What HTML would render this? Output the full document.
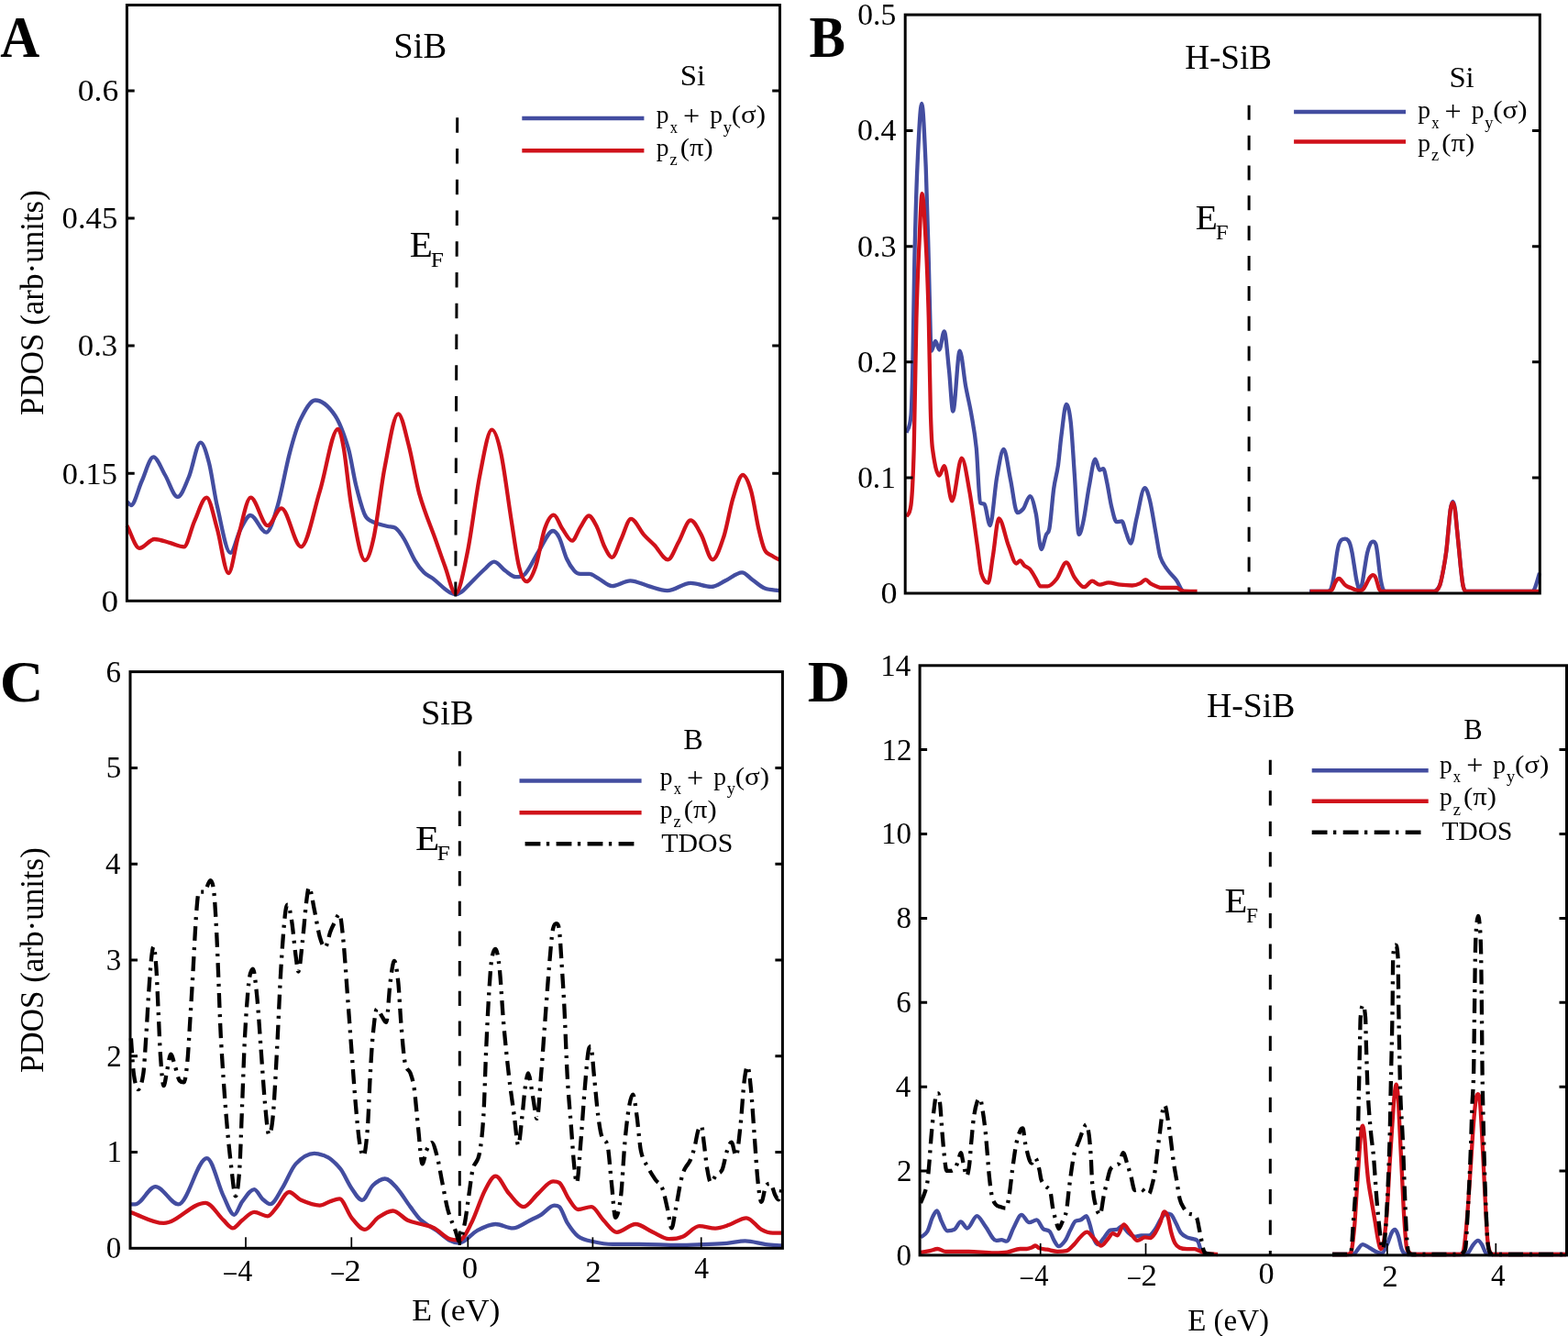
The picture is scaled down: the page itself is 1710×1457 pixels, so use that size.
<!DOCTYPE html>
<html><head><meta charset="utf-8"><title>PDOS of SiB and H-SiB</title>
<style>
html,body{margin:0;padding:0;background:#fff;}
svg{display:block;}
text{font-family:"Liberation Serif","Times New Roman",serif;fill:#000;}
</style></head><body>
<svg width="1710" height="1457" viewBox="0 0 1710 1457">
<rect width="1710" height="1457" fill="#fff"/>
<path d="M138.5 547C139.97 548.33 141.43 551 142.9 551C146.77 551 150.63 533.35 154.5 525C158.77 515.78 163.03 498.3 167.3 498.3C171.53 498.3 175.77 511.01 180 518C184.57 525.54 189.13 541.9 193.7 541.9C197.8 541.9 201.9 529.73 206 520C210.23 509.96 214.47 482.6 218.7 482.6C221.8 482.6 224.9 493.15 228 505C230.93 516.21 233.87 539.47 236.8 551.8C241.63 572.11 246.47 602.9 251.3 602.9C254.87 602.9 258.43 584.69 262 578C265.7 571.06 269.4 562 273.1 562C278.87 562 284.63 580.6 290.4 580.6C294.5 580.6 298.6 565.71 302.7 551.8C307.1 536.87 311.5 510.76 315.9 494.1C319.77 479.46 323.63 465.85 327.5 457.9C332.97 446.65 338.43 436.5 343.9 436.5C351.03 436.5 358.17 442.56 365.3 453C370.17 460.12 375.03 473.04 379.9 489.2C382.63 498.28 385.37 517.51 388.1 528.7C391.13 541.11 394.17 552.12 397.2 560C399.13 565.02 401.07 566.34 403 567.4C409.57 571.01 416.13 572.56 422.7 574C425.47 574.61 428.23 574.11 431 575.7C434.27 577.57 437.53 582.6 440.8 588C444.67 594.4 448.53 604.57 452.4 611.1C455.7 616.67 459 620.98 462.3 624.3C465.57 627.58 468.83 628.33 472.1 630.9C476.5 634.36 480.9 638.81 485.3 642.4C487.2 643.95 489.1 645.35 491 646.3C492.97 647.28 494.93 648.2 496.9 648.2C498.93 648.2 500.97 647.21 503 645.8C505.33 644.18 507.67 641.4 510 639.1C516.07 633.13 522.13 626.54 528.2 621C531.77 617.74 535.33 612.7 538.9 612.7C543 612.7 547.1 619.76 551.2 622.6C555.03 625.26 558.87 629.2 562.7 629.2C566 629.2 569.3 629.2 572.6 625.9C577.57 620.93 582.53 608.84 587.5 601.2C592.7 593.2 597.9 579 603.1 579C605.37 579 607.63 581.79 609.9 586.4C612.63 591.96 615.37 603.5 618.1 609.5C620.87 615.57 623.63 619.53 626.4 622.6C628.57 625 630.73 625.9 632.9 625.9C636.2 625.9 639.5 625.9 642.8 625.9C646.1 625.9 649.4 629.14 652.7 630.9C657.63 633.54 662.57 639.1 667.5 639.1C674.1 639.1 680.7 633.3 687.3 633.3C693.9 633.3 700.5 637.34 707.1 639.1C713.97 640.94 720.83 644.1 727.7 644.1C736.2 644.1 744.7 635.8 753.2 635.8C760.63 635.8 768.07 639.9 775.5 639.9C780.7 639.9 785.9 635.71 791.1 633.3C797.13 630.51 803.17 624.3 809.2 624.3C813.07 624.3 816.93 629.79 820.8 632.5C825.17 635.56 829.53 639.87 833.9 641.6C839.43 643.8 844.97 643.4 850.5 644.3" fill="none" stroke="#434da0" stroke-width="4.3" stroke-linejoin="round"/>
<path d="M138.5 573.2C143 581.43 147.5 597.9 152 597.9C157.5 597.9 163 588 168.5 588C174.27 588 180.03 590.71 185.8 592.2C190.73 593.48 195.67 596.3 200.6 596.3C204.43 596.3 208.27 576.62 212.1 568.3C216.5 558.75 220.9 542.7 225.3 542.7C229.13 542.7 232.97 563.28 236.8 576.5C240.93 590.75 245.07 625.1 249.2 625.1C252.77 625.1 256.33 596.84 259.9 584.7C264.4 569.38 268.9 542.7 273.4 542.7C279.6 542.7 285.8 573.2 292 573.2C296.97 573.2 301.93 554.3 306.9 554.3C314.03 554.3 321.17 596.3 328.3 596.3C335.17 596.3 342.03 557.19 348.9 535.3C355.47 514.36 362.03 467.8 368.6 467.8C370.7 467.8 372.8 477.12 374.9 489.2C377.67 505.12 380.43 537.2 383.2 551.8C388.13 577.83 393.07 611.1 398 611.1C401.3 611.1 404.6 600.2 407.9 584.7C411.73 566.7 415.57 529.97 419.4 510.6C424.37 485.5 429.33 451.3 434.3 451.3C438.13 451.3 441.97 471.35 445.8 485.9C449.63 500.45 453.47 525.16 457.3 538.6C463.33 559.76 469.37 572.66 475.4 589.7C478.7 599.02 482 608.86 485.3 617.7C489.17 628.06 493.03 647.3 496.9 647.3C501.27 647.3 505.63 622.54 510 601.2C514.4 579.7 518.8 540.9 523.2 518.8C527.6 496.7 532 468.6 536.4 468.6C539.7 468.6 543 478.73 546.3 494.1C550.13 511.96 553.97 544.25 557.8 568.3C560.53 585.45 563.27 606.78 566 617.7C568.77 628.75 571.53 634.2 574.3 634.2C577.6 634.2 580.9 627.32 584.2 617.7C587.5 608.08 590.8 585.88 594.1 576.5C597.37 567.21 600.63 561.7 603.9 561.7C607 561.7 610.1 572.16 613.2 576.5C616.77 581.49 620.33 589.7 623.9 589.7C626.93 589.7 629.97 579.46 633 574.9C636 570.39 639 562.5 642 562.5C645.03 562.5 648.07 568.97 651.1 574.9C653.83 580.24 656.57 590.82 659.3 596.3C662.03 601.78 664.77 607.8 667.5 607.8C670.8 607.8 674.1 594.73 677.4 588C680.97 580.73 684.53 565.8 688.1 565.8C692.77 565.8 697.43 577.85 702.1 583.1C705.97 587.45 709.83 590.62 713.7 594.6C718.63 599.68 723.57 610.3 728.5 610.3C732.33 610.3 736.17 597.96 740 591.3C744.4 583.66 748.8 567.4 753.2 567.4C757.03 567.4 760.87 576.22 764.7 583.1C768.83 590.52 772.97 610.3 777.1 610.3C781.23 610.3 785.37 597.12 789.5 584.7C792.77 574.89 796.03 554.23 799.3 543.6C802.87 532 806.43 518 810 518C813.03 518 816.07 525.04 819.1 535.3C821.83 544.54 824.57 564.62 827.3 576.5C829.5 586.06 831.7 595.21 833.9 599.6C836.67 605.11 839.43 604.3 842.2 606.2C844.97 608.1 847.73 609.4 850.5 611" fill="none" stroke="#d0111a" stroke-width="4.3" stroke-linejoin="round"/>
<path d="M498.7 128.3L496.8 650.5" stroke="#000" stroke-width="3" stroke-dasharray="16.5 17.25"/>
<rect x="138.4" y="5.5" width="712.1" height="649.8" fill="none" stroke="#000" stroke-width="3.0"/>
<path d="M138.4 516.2H146.7M850.5 516.2H842.2" stroke="#000" stroke-width="3.0"/>
<path d="M138.4 377.1H146.7M850.5 377.1H842.2" stroke="#000" stroke-width="3.0"/>
<path d="M138.4 238H146.7M850.5 238H842.2" stroke="#000" stroke-width="3.0"/>
<path d="M138.4 98.9H146.7M850.5 98.9H842.2" stroke="#000" stroke-width="3.0"/>
<text transform="translate(110.58 666.6) scale(1.0837 1)" font-size="34.4">0</text>
<text transform="translate(67.69 527.6)" font-size="34.4">0.15</text>
<text transform="translate(84.78 388.4) scale(1.0113 1)" font-size="34.4">0.3</text>
<text transform="translate(67.58 249.3) scale(1.0079 1)" font-size="34.4">0.45</text>
<text transform="translate(84.75 109.7) scale(1.0328 1)" font-size="34.4">0.6</text>
<text transform="translate(0.22 61.8) scale(0.9455 1)" font-size="63" font-weight="bold">A</text>
<text transform="translate(429.32 62.9) scale(0.9809 1)" font-size="39.3">SiB</text>
<text transform="translate(741.8 92.7) scale(1.0440 1)" font-size="31.5">Si</text>
<path d="M569.3 128.9H702.4" stroke="#434da0" stroke-width="4.5"/>
<path d="M569.3 164.3H702.4" stroke="#d0111a" stroke-width="4.5"/>
<text transform="translate(715.76 134.4)" font-size="27.5">p</text>
<text transform="translate(730.66 144.6) scale(0.8915 1)" font-size="18.5">x</text>
<text transform="translate(744.99 137) scale(1.0073 1)" font-size="32">+</text>
<text transform="translate(774.16 134.4)" font-size="27.5">p</text>
<text transform="translate(788.77 144.6)" font-size="18.5">y</text>
<text transform="translate(797.74 134.4) scale(1.1262 1)" font-size="27.5">(σ)</text>
<text transform="translate(715.76 169.5)" font-size="27.5">p</text>
<text transform="translate(730.5 179.7)" font-size="18.5">z</text>
<text transform="translate(741.75 169.5) scale(1.1147 1)" font-size="27.5">(π)</text>
<text transform="translate(446.71 279.7) scale(1.0524 1)" font-size="39.1">E</text>
<text transform="translate(469.77 290.6) scale(1.1310 1)" font-size="22.5">F</text>
<text transform="translate(47.1 330.1) rotate(-90)" font-size="35" text-anchor="middle">PDOS (arb·units)</text>
<path d="M988.5 472C990.17 465.6 991.83 470.45 993.5 452.8C994.1 446.45 994.7 426.46 995.3 400C995.97 370.6 996.63 313.66 997.3 285.2C998.33 241.09 999.37 204.85 1000.4 182.3C1002 147.38 1003.6 112.8 1005.2 112.8C1006.7 112.8 1008.2 148.27 1009.7 182.3C1010.73 205.74 1011.77 247.68 1012.8 285.2C1013.47 309.41 1014.13 346.55 1014.8 367.5C1015.17 379.02 1015.53 382.6 1015.9 382.6C1017.3 382.6 1018.7 371.9 1020.1 371.9C1021.53 371.9 1022.97 381.5 1024.4 381.5C1026.17 381.5 1027.93 361.3 1029.7 361.3C1031.47 361.3 1033.23 387.75 1035 403.8C1036.43 416.82 1037.87 448.5 1039.3 448.5C1041.77 448.5 1044.23 382.6 1046.7 382.6C1048.83 382.6 1050.97 409.2 1053.1 420.9C1055.23 432.6 1057.37 440.4 1059.5 452.8C1061.27 463.07 1063.03 471.1 1064.8 488.9C1066.2 503 1067.6 547.48 1069 548.5C1070.43 549.55 1071.87 549.26 1073.3 549.6C1075.43 550.1 1077.57 573 1079.7 573C1082.17 573 1084.63 534.64 1087.1 520.9C1089.6 506.97 1092.1 490 1094.6 490C1097.07 490 1099.53 511.56 1102 523C1104.5 534.59 1107 559.1 1109.5 559.1C1111.63 559.1 1113.77 557.68 1115.9 554.9C1118.37 551.68 1120.83 541.1 1123.3 541.1C1125.47 541.1 1127.63 550.02 1129.8 560.3C1131.7 569.32 1133.6 599 1135.5 599C1137.37 599 1139.23 587.02 1141.1 582.9C1142.2 580.47 1143.3 582.42 1144.4 576.5C1146 567.89 1147.6 544.47 1149.2 532.9C1150.8 521.33 1152.4 518.24 1154 507.1C1155.1 499.44 1156.2 484.67 1157.3 476.5C1159.17 462.64 1161.03 441 1162.9 441C1164.5 441 1166.1 446.67 1167.7 460.3C1169.07 471.94 1170.43 497.97 1171.8 516.8C1173.4 538.84 1175 582.9 1176.6 582.9C1178.23 582.9 1179.87 576.09 1181.5 568.4C1183.63 558.36 1185.77 540.91 1187.9 529.7C1190.07 518.31 1192.23 500.6 1194.4 500.6C1196 500.6 1197.6 512.7 1199.2 512.7C1200.53 512.7 1201.87 511.1 1203.2 511.1C1204.57 511.1 1205.93 520.17 1207.3 526.5C1208.9 533.91 1210.5 545.73 1212.1 552.3C1213.97 559.96 1215.83 569.2 1217.7 569.2C1219.6 569.2 1221.5 568.4 1223.4 568.4C1225 568.4 1226.6 577.31 1228.2 581.3C1229.83 585.37 1231.47 592.6 1233.1 592.6C1235.23 592.6 1237.37 573.64 1239.5 565.2C1242.47 553.47 1245.43 532.1 1248.4 532.1C1250.27 532.1 1252.13 538.21 1254 545.8C1256.17 554.61 1258.33 569.55 1260.5 581.3C1262.1 589.98 1263.7 602.1 1265.3 607.1C1268 615.53 1270.7 617.69 1273.4 621.6C1276.63 626.29 1279.87 628.36 1283.1 632.9C1285.23 635.89 1287.37 642.07 1289.5 644.2C1290.57 645.26 1291.63 645.02 1292.7 645.3" fill="none" stroke="#434da0" stroke-width="4.3" stroke-linejoin="round"/>
<path d="M1428 645C1434 645 1440 645 1446 645C1447.3 645 1448.6 645 1449.9 644.3C1451 643.71 1452.1 640.46 1453.2 635.9C1454.1 632.16 1455 625.44 1455.9 619.4C1456.63 614.48 1457.37 607.38 1458.1 603C1458.83 598.62 1459.57 595.2 1460.3 593.1C1461.23 590.43 1462.17 589.48 1463.1 588.7C1464.37 587.64 1465.63 587.6 1466.9 587.6C1468 587.6 1469.1 588 1470.2 589.2C1470.93 590 1471.67 591.3 1472.4 593.6C1473.13 595.9 1473.87 599.15 1474.6 603C1475.33 606.85 1476.07 612.18 1476.8 616.7C1477.7 622.25 1478.6 629.21 1479.5 633.2C1480.6 638.08 1481.7 643.3 1482.8 643.3C1483.73 643.3 1484.67 639.96 1485.6 635.9C1486.5 631.99 1487.4 624.78 1488.3 619.4C1489.23 613.82 1490.17 607.02 1491.1 603C1492.2 598.26 1493.3 595.27 1494.4 593.1C1495.4 591.13 1496.4 590.6 1497.4 590.6C1498.4 590.6 1499.4 590.96 1500.4 593.6C1500.97 595.1 1501.53 599.03 1502.1 603C1502.63 606.73 1503.17 612.46 1503.7 616.7C1504.43 622.53 1505.17 629.55 1505.9 633.2C1507 638.68 1508.1 643.04 1509.2 644.1C1510.13 645 1511.07 645 1512 645C1529 645 1546 645 1563 645C1563.9 645 1564.8 645 1565.7 644.4C1567.23 643.38 1568.77 642.21 1570.3 638C1571.53 634.61 1572.77 628.12 1574 621.6C1575.1 615.79 1576.2 609.76 1577.3 601C1578.1 594.63 1578.9 584.27 1579.7 576.2C1580.4 569.14 1581.1 559.95 1581.8 555.6C1582.67 550.22 1583.53 547 1584.4 547C1585.23 547 1586.07 550.19 1586.9 555.6C1587.57 559.93 1588.23 569.32 1588.9 576.2C1589.7 584.45 1590.5 592.75 1591.3 601C1591.97 607.88 1592.63 615.58 1593.3 621.6C1594 627.92 1594.7 634.53 1595.4 638C1596.23 642.13 1597.07 643.69 1597.9 644.4C1598.6 645 1599.3 645 1600 645C1623.67 645 1647.33 645 1671 645C1672 645 1673 643.5 1674 641C1675.67 636.83 1677.33 630.33 1679 625" fill="none" stroke="#434da0" stroke-width="4.3" stroke-linejoin="round"/>
<path d="M988.5 563.4C990.17 559.93 991.83 562.92 993.5 550.6C994.57 542.72 995.63 525.73 996.7 488.9C997.6 457.83 998.5 381.71 999.4 346.9C1000.43 306.94 1001.47 287.23 1002.5 264.6C1003.53 241.97 1004.57 211.1 1005.6 211.1C1006.97 211.1 1008.33 238.82 1009.7 264.6C1010.73 284.09 1011.77 310.06 1012.8 346.9C1013.47 370.66 1014.13 423.31 1014.8 446.4C1015.5 470.64 1016.2 483.63 1016.9 488.9C1019.4 507.73 1021.9 518.7 1024.4 518.7C1026.17 518.7 1027.93 508.1 1029.7 508.1C1032.53 508.1 1035.37 546.4 1038.2 546.4C1041.73 546.4 1045.27 499.6 1048.8 499.6C1051.63 499.6 1054.47 519.84 1057.3 535.7C1060.17 551.74 1063.03 575.28 1065.9 595.3C1067.3 605.08 1068.7 620.27 1070.1 625.1C1072.6 633.73 1075.1 635.7 1077.6 635.7C1079.37 635.7 1081.13 616.6 1082.9 606C1085.03 593.2 1087.17 565.5 1089.3 565.5C1092.83 565.5 1096.37 586.24 1099.9 595.3C1102.73 602.57 1105.57 614.5 1108.4 614.5C1109.83 614.5 1111.27 611.3 1112.7 611.3C1114.1 611.3 1115.5 615.33 1116.9 616.6C1119.03 618.53 1121.17 618.47 1123.3 620.9C1125.47 623.37 1127.63 627.78 1129.8 631.3C1131.43 633.95 1133.07 639.4 1134.7 639.4C1137.37 639.4 1140.03 639.4 1142.7 639.4C1145.93 639.4 1149.17 635.45 1152.4 631.3C1155.9 626.81 1159.4 613.5 1162.9 613.5C1165.87 613.5 1168.83 625.62 1171.8 629.7C1175.3 634.52 1178.8 640.2 1182.3 640.2C1185.23 640.2 1188.17 633.7 1191.1 633.7C1193.8 633.7 1196.5 637.7 1199.2 637.7C1202.43 637.7 1205.67 635.3 1208.9 635.3C1213.2 635.3 1217.5 637.17 1221.8 637.7C1226.1 638.23 1230.4 638.5 1234.7 638.5C1237.63 638.5 1240.57 637.39 1243.5 636.1C1245.4 635.26 1247.3 632.1 1249.2 632.1C1251.33 632.1 1253.47 635.83 1255.6 636.9C1259.37 638.79 1263.13 641 1266.9 641C1272.3 641 1277.7 641 1283.1 641C1285.23 641 1287.37 644.3 1289.5 644.5C1294.87 644.99 1300.23 644.91 1305.6 645" fill="none" stroke="#d0111a" stroke-width="4.3" stroke-linejoin="round"/>
<path d="M1428.7 645C1434.47 645 1440.23 645 1446 645C1446.73 645 1447.47 644.96 1448.2 644.8C1449.67 644.47 1451.13 644.76 1452.6 643.3C1453.7 642.2 1454.8 638.14 1455.9 635.9C1456.63 634.41 1457.37 632.92 1458.1 632.1C1458.83 631.28 1459.57 631 1460.3 631C1461.23 631 1462.17 632.21 1463.1 633.2C1464.2 634.37 1465.3 636.45 1466.4 637.5C1467.67 638.71 1468.93 639.35 1470.2 640C1471.47 640.65 1472.73 640.89 1474 641.4C1475.47 641.99 1476.93 642.85 1478.4 643.3C1479.87 643.75 1481.33 644.1 1482.8 644.1C1484.1 644.1 1485.4 643.88 1486.7 642.5C1487.97 641.15 1489.23 638.15 1490.5 635.9C1491.6 633.95 1492.7 631.37 1493.8 629.9C1494.9 628.43 1496 627.1 1497.1 627.1C1498.03 627.1 1498.97 627.66 1499.9 629.3C1500.63 630.59 1501.37 633.62 1502.1 635.9C1502.83 638.18 1503.57 641.76 1504.3 643C1505.37 644.8 1506.43 645 1507.5 645C1526 645 1544.5 645 1563 645C1563.9 645 1564.8 645 1565.7 644.6C1567.23 643.92 1568.77 642.25 1570.3 638C1571.53 634.58 1572.77 628.12 1574 621.6C1575.1 615.79 1576.2 609.76 1577.3 601C1578.1 594.63 1578.9 584.27 1579.7 576.2C1580.4 569.14 1581.1 559.86 1581.8 555.6C1582.63 550.53 1583.47 548.2 1584.3 548.2C1585.1 548.2 1585.9 550.62 1586.7 555.6C1587.4 559.96 1588.1 569.29 1588.8 576.2C1589.63 584.42 1590.47 592.59 1591.3 601C1591.97 607.73 1592.63 615.58 1593.3 621.6C1594 627.92 1594.7 634.5 1595.4 638C1596.23 642.17 1597.07 644.12 1597.9 644.6C1598.6 645 1599.3 645 1600 645C1626.33 645 1652.67 645 1679 645" fill="none" stroke="#d0111a" stroke-width="4.3" stroke-linejoin="round"/>
<path d="M1362.1 114.8V647" stroke="#000" stroke-width="3" stroke-dasharray="16 16.85"/>
<rect x="987.2" y="16.1" width="692.1" height="630.9" fill="none" stroke="#000" stroke-width="3.0"/>
<path d="M987.2 520.9H995.5M1679.3 520.9H1671" stroke="#000" stroke-width="3.0"/>
<path d="M987.2 394.8H995.5M1679.3 394.8H1671" stroke="#000" stroke-width="3.0"/>
<path d="M987.2 268.7H995.5M1679.3 268.7H1671" stroke="#000" stroke-width="3.0"/>
<path d="M987.2 142.6H995.5M1679.3 142.6H1671" stroke="#000" stroke-width="3.0"/>
<text transform="translate(960.43 658.4) scale(1.0808 1)" font-size="33.4">0</text>
<text transform="translate(935.13 531.8)" font-size="33.4">0.1</text>
<text transform="translate(935.07 405.8) scale(1.0457 1)" font-size="33.4">0.2</text>
<text transform="translate(934.9 279.5) scale(1.0186 1)" font-size="33.4">0.3</text>
<text transform="translate(935.11 153.4) scale(1.0111 1)" font-size="33.4">0.4</text>
<text transform="translate(935.22 27.2) scale(1.0058 1)" font-size="33.4">0.5</text>
<text transform="translate(882.62 61.7) scale(0.9383 1)" font-size="63" font-weight="bold">B</text>
<text transform="translate(1292.13 74.7) scale(0.9951 1)" font-size="37.3">H-SiB</text>
<text transform="translate(1580.41 95.2) scale(1.0397 1)" font-size="31.5">Si</text>
<path d="M1411.1 121.9H1533" stroke="#434da0" stroke-width="4.5"/>
<path d="M1411.1 154.5H1533" stroke="#d0111a" stroke-width="4.5"/>
<text transform="translate(1546.26 129.4)" font-size="27.5">p</text>
<text transform="translate(1561.16 139.6) scale(0.8915 1)" font-size="18.5">x</text>
<text transform="translate(1575.49 132) scale(1.0073 1)" font-size="32">+</text>
<text transform="translate(1604.66 129.4)" font-size="27.5">p</text>
<text transform="translate(1619.27 139.6)" font-size="18.5">y</text>
<text transform="translate(1628.24 129.4) scale(1.1262 1)" font-size="27.5">(σ)</text>
<text transform="translate(1546.26 164.5)" font-size="27.5">p</text>
<text transform="translate(1561 174.7)" font-size="18.5">z</text>
<text transform="translate(1572.25 164.5) scale(1.1147 1)" font-size="27.5">(π)</text>
<text transform="translate(1303.66 249.6) scale(1.0411 1)" font-size="37.9">E</text>
<text transform="translate(1325.78 260.7) scale(1.1129 1)" font-size="22.5">F</text>
<path d="M142.5 1313.3C144.13 1313.3 145.77 1313.3 147.4 1313.3C154.77 1313.3 162.13 1294.1 169.5 1294.1C177.87 1294.1 186.23 1313.3 194.6 1313.3C204.93 1313.3 215.27 1263.1 225.6 1263.1C231.63 1263.1 237.67 1291.91 243.7 1304.4C247.6 1312.47 251.5 1324.8 255.4 1324.8C258.33 1324.8 261.27 1314.01 264.2 1310.3C268.57 1304.78 272.93 1297.1 277.3 1297.1C280.2 1297.1 283.1 1304.63 286 1307.3C288.93 1310 291.87 1313.2 294.8 1313.2C299.17 1313.2 303.53 1302.6 307.9 1295.7C312.77 1288 317.63 1274.67 322.5 1269.4C329.3 1262.04 336.1 1257.8 342.9 1257.8C346.77 1257.8 350.63 1259.39 354.5 1260.7C356.33 1261.32 358.17 1262.04 360 1263.6C363.9 1266.91 367.8 1269.93 371.7 1275.3C375.57 1280.63 379.43 1290.14 383.3 1295.7C387.2 1301.31 391.1 1308.8 395 1308.8C398.87 1308.8 402.73 1296.43 406.6 1292.8C411 1288.67 415.4 1285.5 419.8 1285.5C424.17 1285.5 428.53 1290.88 432.9 1295.7C437.77 1301.08 442.63 1309.6 447.5 1316.1C451.37 1321.27 455.23 1327.22 459.1 1330.7C464.93 1335.95 470.77 1338.18 476.6 1342.3C481.07 1345.45 485.53 1350.08 490 1352.5C493.67 1354.48 497.33 1355.5 501 1355.5C507.33 1355.5 513.67 1345.6 520 1342.3C526.8 1338.76 533.6 1335 540.4 1335C546.7 1335 553 1339.4 559.3 1339.4C565.63 1339.4 571.97 1333.71 578.3 1330.7C582.2 1328.85 586.1 1327.2 590 1324.8C594.83 1321.83 599.67 1314.6 604.5 1314.6C606.33 1314.6 608.17 1314.6 610 1316.1C612.9 1318.47 615.8 1329.04 618.7 1333.6C622.6 1339.74 626.5 1345.33 630.4 1348.2C635.73 1352.13 641.07 1352.78 646.4 1354C653.7 1355.68 661 1356.9 668.3 1356.9C678.03 1356.9 687.77 1356.9 697.5 1356.9C711.67 1356.9 725.83 1358 740 1358C749.2 1358 758.4 1357.47 767.6 1357.1C775.97 1356.77 784.33 1356.59 792.7 1355.9C799.37 1355.35 806.03 1353.4 812.7 1353.4C820.23 1353.4 827.77 1356.17 835.3 1357.1C841.2 1357.83 847.1 1357.97 853 1358.4" fill="none" stroke="#434da0" stroke-width="4.3" stroke-linejoin="round"/>
<path d="M142.5 1322.1C154.47 1326.03 166.43 1333.9 178.4 1333.9C193.63 1333.9 208.87 1311.8 224.1 1311.8C230.63 1311.8 237.17 1324.67 243.7 1330.7C247.13 1333.87 250.57 1339.4 254 1339.4C257.4 1339.4 260.8 1333.25 264.2 1330.7C268.57 1327.42 272.93 1321.9 277.3 1321.9C282.17 1321.9 287.03 1326.3 291.9 1326.3C295.3 1326.3 298.7 1319.94 302.1 1316.1C306.47 1311.17 310.83 1300 315.2 1300C319.57 1300 323.93 1306.9 328.3 1308.8C335.1 1311.76 341.9 1314.6 348.7 1314.6C352.47 1314.6 356.23 1311.58 360 1310.3C363.4 1309.15 366.8 1307.3 370.2 1307.3C374.57 1307.3 378.93 1322.5 383.3 1327.8C388.17 1333.7 393.03 1340.9 397.9 1340.9C402.77 1340.9 407.63 1331.04 412.5 1327.8C417.83 1324.24 423.17 1320.5 428.5 1320.5C433.83 1320.5 439.17 1328.17 444.5 1330.7C449.37 1333.01 454.23 1333.55 459.1 1335C463.97 1336.45 468.83 1336.86 473.7 1339.4C479.13 1342.23 484.57 1349.03 490 1351.1C493.67 1352.5 497.33 1352.5 501 1352.5C505.4 1352.5 509.8 1342.16 514.2 1333.6C519.03 1324.2 523.87 1308.01 528.7 1298.6C532.6 1291.01 536.5 1282.6 540.4 1282.6C545.27 1282.6 550.13 1296.17 555 1301.5C560.33 1307.34 565.67 1316.1 571 1316.1C576.33 1316.1 581.67 1306.1 587 1301.5C592.37 1296.87 597.73 1288.4 603.1 1288.4C605.4 1288.4 607.7 1288.4 610 1289.9C613.4 1292.12 616.8 1302.45 620.2 1307.3C623.6 1312.15 627 1319 630.4 1319C635.27 1319 640.13 1316.1 645 1316.1C649.37 1316.1 653.73 1326.33 658.1 1330.7C662.97 1335.57 667.83 1343.8 672.7 1343.8C679.5 1343.8 686.3 1335 693.1 1335C699.4 1335 705.7 1341.01 712 1343.8C717.83 1346.38 723.67 1351.1 729.5 1351.1C734.67 1351.1 739.83 1350.59 745 1348.4C750.87 1345.92 756.73 1337.1 762.6 1337.1C768.43 1337.1 774.27 1339.6 780.1 1339.6C785.13 1339.6 790.17 1337.48 795.2 1335.8C801.47 1333.71 807.73 1328.3 814 1328.3C819.43 1328.3 824.87 1337.81 830.3 1340.9C834.47 1343.27 838.63 1344.7 842.8 1344.7C846.2 1344.7 849.6 1344.7 853 1344.7" fill="none" stroke="#d0111a" stroke-width="4.3" stroke-linejoin="round"/>
<path d="M142.9 1132.3C143.87 1145.13 144.83 1163.79 145.8 1170.8C147.4 1182.39 149 1188.1 150.6 1188.1C152.5 1188.1 154.4 1183.13 156.3 1170.8C157.27 1164.53 158.23 1146.73 159.2 1132.3C160.17 1117.87 161.13 1098.62 162.1 1084.2C163.07 1069.78 164.03 1055.09 165 1045.8C165.83 1037.79 166.67 1032.3 167.5 1032.3C168.47 1032.3 169.43 1042.16 170.4 1055.4C171.17 1065.9 171.93 1087.48 172.7 1103.5C173.47 1119.52 174.23 1140.83 175 1151.5C176.17 1167.73 177.33 1184.2 178.5 1184.2C179.77 1184.2 181.03 1172.59 182.3 1166.9C183.6 1161.06 184.9 1149.6 186.2 1149.6C187.8 1149.6 189.4 1158.28 191 1163.1C192.6 1167.92 194.2 1176.6 195.8 1178.5C197.4 1180.4 199 1180.4 200.6 1180.4C201.87 1180.4 203.13 1170.02 204.4 1157.3C205.37 1147.59 206.33 1128.48 207.3 1113.1C208.27 1097.72 209.23 1081.65 210.2 1065C211.47 1043.18 212.73 1015.15 214 997.7C214.97 984.38 215.93 972.7 216.9 972.7C218.83 972.7 220.77 972.7 222.7 972.7C224.93 972.7 227.17 960.2 229.4 960.2C230.7 960.2 232 961.86 233.3 972.7C234.27 980.76 235.23 998.94 236.2 1016.9C236.8 1028.04 237.4 1045.25 238 1060C238.93 1082.95 239.87 1113.16 240.8 1130C242.77 1165.49 244.73 1192.58 246.7 1217C248.63 1241.01 250.57 1258.73 252.5 1275.3C253.97 1287.87 255.43 1304.4 256.9 1304.4C258.33 1304.4 259.77 1295.33 261.2 1275.3C262.2 1261.33 263.2 1227.11 264.2 1202.4C265.17 1178.51 266.13 1147.11 267.1 1129.5C268.53 1103.38 269.97 1083.21 271.4 1071.2C272.87 1058.91 274.33 1056.6 275.8 1056.6C277.27 1056.6 278.73 1071.22 280.2 1085.8C281.67 1100.38 283.13 1124.44 284.6 1144.1C286.03 1163.31 287.47 1187.03 288.9 1202.4C290.37 1218.13 291.83 1237.4 293.3 1237.4C294.77 1237.4 296.23 1232.55 297.7 1217C299.17 1201.45 300.63 1171.14 302.1 1144.1C303.53 1117.67 304.97 1080.62 306.4 1056.6C307.87 1032.02 309.33 1012.36 310.8 998.3C311.77 989.03 312.73 986.6 313.7 986.6C315.17 986.6 316.63 994.87 318.1 1004.1C319.57 1013.33 321.03 1030.87 322.5 1042C323.47 1049.34 324.43 1059.5 325.4 1059.5C326.87 1059.5 328.33 1040.28 329.8 1027.5C331.23 1015.01 332.67 995.6 334.1 983.7C335.07 975.67 336.03 967.7 337 967.7C338.97 967.7 340.93 983.44 342.9 992.5C344.83 1001.41 346.77 1014.8 348.7 1021.6C350.63 1028.4 352.57 1033.3 354.5 1033.3C356.47 1033.3 358.43 1021 360.4 1015.8C361.73 1012.27 363.07 1009.67 364.4 1007.1C366.33 1003.37 368.27 996.9 370.2 996.9C371.67 996.9 373.13 1012.68 374.6 1027.5C376.07 1042.32 377.53 1066.14 379 1085.8C380.43 1105.01 381.87 1124.89 383.3 1144.1C384.77 1163.76 386.23 1185.4 387.7 1202.4C389.17 1219.4 390.63 1236.27 392.1 1246.1C393.53 1255.7 394.97 1260.7 396.4 1260.7C397.87 1260.7 399.33 1249.08 400.8 1231.5C401.77 1219.91 402.73 1190.2 403.7 1173.2C404.67 1156.2 405.63 1139.15 406.6 1129.5C408.07 1114.85 409.53 1100.3 411 1100.3C412.97 1100.3 414.93 1106.28 416.9 1109.1C418.33 1111.15 419.77 1114.9 421.2 1114.9C422.67 1114.9 424.13 1082.37 425.6 1071.2C427.07 1060.03 428.53 1047.9 430 1047.9C431.43 1047.9 432.87 1058.04 434.3 1071.2C435.3 1080.38 436.3 1102.91 437.3 1114.9C438.73 1132.08 440.17 1151.22 441.6 1158.7C443.57 1168.97 445.53 1164.91 447.5 1170.3C448.93 1174.23 450.37 1177.72 451.8 1187.8C453.27 1198.12 454.73 1217.9 456.2 1231.5C457.67 1245.1 459.13 1269.4 460.6 1269.4C462.07 1269.4 463.53 1258.25 465 1254.9C466.93 1250.48 468.87 1246.1 470.8 1246.1C472.73 1246.1 474.67 1253.4 476.6 1260.7C478.53 1268 480.47 1280.27 482.4 1289.9C484.37 1299.7 486.33 1311.79 488.3 1319C491.1 1329.26 493.9 1334.58 496.7 1342.3C498.13 1346.25 499.57 1354 501 1354C502.97 1354 504.93 1343.16 506.9 1333.6C508.33 1326.63 509.77 1314 511.2 1304.4C512.67 1294.57 514.13 1281.14 515.6 1275.3C518.03 1265.61 520.47 1269.93 522.9 1257.8C524.37 1250.49 525.83 1239.84 527.3 1217C528.27 1201.94 529.23 1165.97 530.2 1144.1C531.17 1122.23 532.13 1101.83 533.1 1085.8C534.07 1069.77 535.03 1054.65 536 1047.9C537.47 1037.65 538.93 1034.8 540.4 1034.8C541.87 1034.8 543.33 1043.1 544.8 1056.6C546.23 1069.8 547.67 1098.52 549.1 1114.9C551.07 1137.38 553.03 1156.04 555 1173.2C556.93 1190.07 558.87 1202.63 560.8 1217C562.27 1227.9 563.73 1249 565.2 1249C566.63 1249 568.07 1229.02 569.5 1217C570.5 1208.62 571.5 1194.98 572.5 1187.8C573.67 1179.42 574.83 1170.3 576 1170.3C577.73 1170.3 579.47 1187.64 581.2 1196.6C582.67 1204.18 584.13 1219.9 585.6 1219.9C587.07 1219.9 588.53 1190.9 590 1173.2C591.43 1155.9 592.87 1134.11 594.3 1114.9C595.77 1095.24 597.23 1073.6 598.7 1056.6C600.17 1039.6 601.63 1019.62 603.1 1012.9C604.37 1007.1 605.63 1007.1 606.9 1007.1C607.93 1007.1 608.97 1007.1 610 1015C610.83 1021.37 611.67 1037.12 612.5 1050C613.5 1065.45 614.5 1080.13 615.5 1100C616.57 1121.2 617.63 1154.74 618.7 1173.2C620.17 1198.58 621.63 1212.17 623.1 1231.5C624.07 1244.24 625.03 1259.83 626 1269.4C627 1279.3 628 1289.9 629 1289.9C630.43 1289.9 631.87 1262.92 633.3 1246.1C634.77 1228.89 636.23 1204.8 637.7 1187.8C639.17 1170.8 640.63 1149.65 642.1 1144.1C642.87 1141.2 643.63 1141.2 644.4 1141.2C645.57 1141.2 646.73 1162.01 647.9 1173.2C649.37 1187.27 650.83 1205.69 652.3 1217C653.73 1228.05 655.17 1236.84 656.6 1240.3C658.57 1245.05 660.53 1241.71 662.5 1249C663.97 1254.44 665.43 1276.62 666.9 1289.9C668.33 1302.88 669.77 1327.8 671.2 1327.8C673.17 1327.8 675.13 1320.15 677.1 1304.4C678.53 1292.92 679.97 1261.95 681.4 1246.1C682.87 1229.88 684.33 1216.95 685.8 1208.2C687.27 1199.45 688.73 1193.6 690.2 1193.6C691.63 1193.6 693.07 1206.9 694.5 1217C695.97 1227.33 697.43 1247.96 698.9 1254.9C701.33 1266.42 703.77 1267.56 706.2 1272.4C709.13 1278.23 712.07 1282.63 715 1286.9C717.4 1290.4 719.8 1289.82 722.2 1295.7C724.17 1300.52 726.13 1310.57 728.1 1319C729.53 1325.14 730.97 1339.4 732.4 1339.4C733.87 1339.4 735.33 1326.43 736.8 1319C738.7 1309.37 740.6 1296.86 742.5 1288.2C743.77 1282.43 745.03 1278.52 746.3 1275.7C748.4 1271.02 750.5 1270.36 752.6 1265.7C754.27 1262 755.93 1256.85 757.6 1250.6C758.83 1245.98 760.07 1236.8 761.3 1233.1C762.57 1229.3 763.83 1228.1 765.1 1228.1C765.93 1228.1 766.77 1239.3 767.6 1245.6C768.87 1255.17 770.13 1268.29 771.4 1275.7C772.63 1282.92 773.87 1289.5 775.1 1289.5C777.2 1289.5 779.3 1282.96 781.4 1280.7C783.47 1278.47 785.53 1280.18 787.6 1275.7C789.3 1272.02 791 1260.67 792.7 1255.6C794.37 1250.63 796.03 1245.6 797.7 1245.6C799.37 1245.6 801.03 1260.7 802.7 1260.7C804.37 1260.7 806.03 1240.79 807.7 1225.6C808.97 1214.06 810.23 1191.09 811.5 1180.5C812.73 1170.19 813.97 1162.9 815.2 1162.9C816.47 1162.9 817.73 1175.3 819 1188C820.23 1200.37 821.47 1221.62 822.7 1238.1C823.97 1255.02 825.23 1276.08 826.5 1288.2C827.77 1300.32 829.03 1310.8 830.3 1310.8C831.97 1310.8 833.63 1295.7 835.3 1293.2C836.97 1290.7 838.63 1290.7 840.3 1290.7C841.97 1290.7 843.63 1299.93 845.3 1303.3C846.53 1305.8 847.77 1308.3 849 1308.3C850.27 1308.3 851.53 1299.9 852.8 1295.7" fill="none" stroke="#000" stroke-width="4.3" stroke-linejoin="round" stroke-dasharray="16 7 3 7"/>
<path d="M501.3 819.2V1358" stroke="#000" stroke-width="3" stroke-dasharray="16.3 16.4"/>
<rect x="142" y="732.6" width="711.4" height="628.7" fill="none" stroke="#000" stroke-width="3.0"/>
<path d="M142 1256.52H150M853.4 1256.52H845.4" stroke="#000" stroke-width="3.0"/>
<path d="M142 1151.74H150M853.4 1151.74H845.4" stroke="#000" stroke-width="3.0"/>
<path d="M142 1046.96H150M853.4 1046.96H845.4" stroke="#000" stroke-width="3.0"/>
<path d="M142 942.18H150M853.4 942.18H845.4" stroke="#000" stroke-width="3.0"/>
<path d="M142 837.4H150M853.4 837.4H845.4" stroke="#000" stroke-width="3.0"/>
<text x="115.76" y="1372.2" font-size="33">0</text>
<text x="116.48" y="1267.42" font-size="33">1</text>
<text x="116.32" y="1162.64" font-size="33">2</text>
<text x="115.79" y="1057.86" font-size="33">3</text>
<text x="115.02" y="953.08" font-size="33">4</text>
<text x="115.79" y="848.3" font-size="33">5</text>
<text x="115.48" y="743.52" font-size="33">6</text>
<path d="M268 1361.3V1349.3" stroke="#000" stroke-width="1.7"/>
<path d="M383.3 1361.3V1349.3" stroke="#000" stroke-width="1.7"/>
<path d="M510.3 1361.3V1349.3" stroke="#000" stroke-width="1.7"/>
<path d="M646.4 1361.3V1349.3" stroke="#000" stroke-width="1.7"/>
<path d="M764.7 1361.3V1349.3" stroke="#000" stroke-width="1.7"/>
<text transform="translate(259.39 1396.9) scale(0.9518 1)" font-size="33">4</text>
<text transform="translate(244.28 1396.9) scale(0.8200 1)" font-size="33">–</text>
<text transform="translate(375.6 1396.7) scale(1.1036 1)" font-size="33">2</text>
<text transform="translate(361.48 1396.7) scale(0.8082 1)" font-size="33">–</text>
<text transform="translate(503.78 1393.9) scale(1.0510 1)" font-size="33">0</text>
<text transform="translate(638.37 1397.9) scale(1.0583 1)" font-size="33">2</text>
<text transform="translate(757.28 1393.5) scale(0.9583 1)" font-size="33">4</text>
<text transform="translate(449.17 1439.8) scale(1.0366 1)" font-size="34.5">E (eV)</text>
<text transform="translate(-0.13 764.6) scale(1.0335 1)" font-size="64" font-weight="bold">C</text>
<text transform="translate(458.93 789.6) scale(1.0288 1)" font-size="37.4">SiB</text>
<text transform="translate(745.17 816.7) scale(1.0202 1)" font-size="31.6">B</text>
<path d="M566.5 851.4H699.6" stroke="#434da0" stroke-width="4.5"/>
<path d="M566.5 886.3H699.6" stroke="#d0111a" stroke-width="4.5"/>
<path d="M572.6 920.3H695.5" stroke="#000" stroke-width="4.5" stroke-dasharray="16.8 6.5 3.3 7.4"/>
<text transform="translate(719.76 856.2)" font-size="27.5">p</text>
<text transform="translate(734.66 866.4) scale(0.8915 1)" font-size="18.5">x</text>
<text transform="translate(748.99 858.8) scale(1.0073 1)" font-size="32">+</text>
<text transform="translate(778.16 856.2)" font-size="27.5">p</text>
<text transform="translate(792.77 866.4)" font-size="18.5">y</text>
<text transform="translate(801.74 856.2) scale(1.1262 1)" font-size="27.5">(σ)</text>
<text transform="translate(719.76 891.8)" font-size="27.5">p</text>
<text transform="translate(734.5 902)" font-size="18.5">z</text>
<text transform="translate(745.75 891.8) scale(1.1147 1)" font-size="27.5">(π)</text>
<text transform="translate(721.36 929.1) scale(1.0503 1)" font-size="28.4">TDOS</text>
<text transform="translate(452.96 926.9) scale(1.1353 1)" font-size="37.9">E</text>
<text transform="translate(476.56 937.8) scale(1.1491 1)" font-size="22.5">F</text>
<text transform="translate(46.7 1047.1) rotate(-90)" font-size="35" text-anchor="middle">PDOS (arb·units)</text>
<path d="M1004 1349.5C1006.43 1347.33 1008.87 1347.13 1011.3 1343C1013.17 1339.83 1015.03 1331.6 1016.9 1327.6C1018.53 1324.1 1020.17 1320.5 1021.8 1320.5C1023.43 1320.5 1025.07 1328.65 1026.7 1331.8C1028.83 1335.92 1030.97 1342.3 1033.1 1342.3C1035.67 1342.3 1038.23 1342.3 1040.8 1340.9C1043.13 1339.63 1045.47 1332.5 1047.8 1332.5C1050.17 1332.5 1052.53 1339.5 1054.9 1339.5C1058.4 1339.5 1061.9 1326.2 1065.4 1326.2C1068.47 1326.2 1071.53 1333.52 1074.6 1337.4C1078.57 1342.42 1082.53 1352.9 1086.5 1352.9C1088.4 1352.9 1090.3 1352.2 1092.2 1352.2C1094.07 1352.2 1095.93 1353.6 1097.8 1353.6C1100.37 1353.6 1102.93 1343.36 1105.5 1338.8C1108.33 1333.76 1111.17 1324.8 1114 1324.8C1116.8 1324.8 1119.6 1333.2 1122.4 1333.2C1125.13 1333.2 1127.87 1330.4 1130.6 1330.4C1132.97 1330.4 1135.33 1338.38 1137.7 1340.2C1140.03 1342 1142.37 1340.85 1144.7 1343C1146.33 1344.5 1147.97 1350.2 1149.6 1352.9C1151.23 1355.6 1152.87 1359.2 1154.5 1359.2C1156.87 1359.2 1159.23 1356.18 1161.6 1352.9C1163.47 1350.31 1165.33 1345.12 1167.2 1341.6C1169.07 1338.08 1170.93 1333.04 1172.8 1331.8C1174.7 1330.53 1176.6 1331 1178.5 1330.4C1180.6 1329.74 1182.7 1326.2 1184.8 1326.2C1185.97 1326.2 1187.13 1330.98 1188.3 1334.6C1189.7 1338.95 1191.1 1346.39 1192.5 1350.1C1193.93 1353.89 1195.37 1357.1 1196.8 1357.1C1199.13 1357.1 1201.47 1352.68 1203.8 1350.1C1206.13 1347.52 1208.47 1342.22 1210.8 1341.6C1213.17 1340.98 1215.53 1341.22 1217.9 1340.9C1219.77 1340.65 1221.63 1337.4 1223.5 1337.4C1225.83 1337.4 1228.17 1342.52 1230.5 1344.4C1232.83 1346.28 1235.17 1348.7 1237.5 1348.7C1239.87 1348.7 1242.23 1347.3 1244.6 1347.3C1247.4 1347.3 1250.2 1347.4 1253 1347.4C1255.23 1347.4 1257.47 1343.82 1259.7 1340.7C1261.93 1337.58 1264.17 1331.91 1266.4 1328.7C1268.2 1326.11 1270 1323.3 1271.8 1323.3C1273.57 1323.3 1275.33 1323.3 1277.1 1324.6C1278.9 1325.92 1280.7 1330.65 1282.5 1334C1284.3 1337.35 1286.1 1342.41 1287.9 1344.7C1290.13 1347.54 1292.37 1348.38 1294.6 1349.4C1297.27 1350.62 1299.93 1350.36 1302.6 1351.4C1303.93 1351.92 1305.27 1351.97 1306.6 1354.1C1307.5 1355.54 1308.4 1360.57 1309.3 1362.1C1310.63 1364.37 1311.97 1364.66 1313.3 1365.5C1315.1 1366.63 1316.9 1367.17 1318.7 1368" fill="none" stroke="#434da0" stroke-width="4.3" stroke-linejoin="round"/>
<path d="M1453 1368C1460 1368 1467 1368 1474 1368C1475.23 1368 1476.47 1367.71 1477.7 1366.6C1480.5 1364.08 1483.3 1357.1 1486.1 1357.1C1488.43 1357.1 1490.77 1359.34 1493.1 1360.6C1495.93 1362.14 1498.77 1364.29 1501.6 1365.5C1503.47 1366.29 1505.33 1366.6 1507.2 1366.6C1509.07 1366.6 1510.93 1361.05 1512.8 1357.1C1514.43 1353.65 1516.07 1347.51 1517.7 1344.4C1518.9 1342.11 1520.1 1340.9 1521.3 1340.9C1522.47 1340.9 1523.63 1343.8 1524.8 1347.2C1525.97 1350.6 1527.13 1357.71 1528.3 1361.3C1529.23 1364.17 1530.17 1365.67 1531.1 1366.6C1532.4 1367.9 1533.7 1368 1535 1368C1556 1368 1577 1368 1598 1368C1599.1 1368 1600.2 1367.55 1601.3 1366.2C1603.17 1363.91 1605.03 1359.48 1606.9 1357.1C1608.53 1355.02 1610.17 1352.8 1611.8 1352.8C1613.2 1352.8 1614.6 1354.87 1616 1357.1C1617.4 1359.33 1618.8 1364.29 1620.2 1366.2C1621.47 1367.93 1622.73 1368 1624 1368C1652 1368 1680 1368 1708 1368" fill="none" stroke="#434da0" stroke-width="4.3" stroke-linejoin="round"/>
<path d="M1004 1366C1007.37 1365.37 1010.73 1364.83 1014.1 1364.1C1016.9 1363.49 1019.7 1362 1022.5 1362C1025.33 1362 1028.17 1364.8 1031 1364.8C1039.43 1364.8 1047.87 1364.8 1056.3 1364.8C1065.67 1364.8 1075.03 1366.3 1084.4 1366.3C1089.1 1366.3 1093.8 1366.3 1098.5 1365.6C1103.17 1364.9 1107.83 1362 1112.5 1362C1114.87 1362 1117.23 1362 1119.6 1362C1121.4 1362 1123.2 1361.26 1125 1360.6C1126.4 1360.09 1127.8 1358.5 1129.2 1358.5C1130.6 1358.5 1132 1360.84 1133.4 1361.3C1136.23 1362.24 1139.07 1362.2 1141.9 1362.7C1145.63 1363.36 1149.37 1364.8 1153.1 1364.8C1156.4 1364.8 1159.7 1364.8 1163 1364.1C1165.8 1363.51 1168.6 1359.88 1171.4 1357.1C1173.77 1354.75 1176.13 1350.95 1178.5 1348.7C1180.83 1346.48 1183.17 1343.7 1185.5 1343.7C1187.83 1343.7 1190.17 1347.87 1192.5 1350.1C1195.33 1352.81 1198.17 1358.5 1201 1358.5C1203.33 1358.5 1205.67 1353.96 1208 1351.5C1209.87 1349.53 1211.73 1345.2 1213.6 1345.2C1215.27 1345.2 1216.93 1347.3 1218.6 1347.3C1220.93 1347.3 1223.27 1335.3 1225.6 1335.3C1227.7 1335.3 1229.8 1340.5 1231.9 1343C1234.73 1346.37 1237.57 1352.9 1240.4 1352.9C1243.2 1352.9 1246 1349.4 1248.8 1349.4C1250.67 1349.4 1252.53 1350.1 1254.4 1350.1C1256.17 1350.1 1257.93 1347.36 1259.7 1344.7C1261.5 1341.99 1263.3 1338.17 1265.1 1334C1266.67 1330.37 1268.23 1321.3 1269.8 1321.3C1271.13 1321.3 1272.47 1323.26 1273.8 1327.3C1274.9 1330.63 1276 1339.22 1277.1 1343.4C1278.47 1348.59 1279.83 1352.87 1281.2 1355.4C1282.97 1358.67 1284.73 1359.95 1286.5 1360.8C1289.2 1362.1 1291.9 1362.1 1294.6 1362.1C1297.27 1362.1 1299.93 1362.1 1302.6 1362.1C1304.37 1362.1 1306.13 1363.41 1307.9 1364.1C1310.13 1364.97 1312.37 1366.37 1314.6 1366.8C1319.07 1367.67 1323.53 1367.6 1328 1368" fill="none" stroke="#d0111a" stroke-width="4.3" stroke-linejoin="round"/>
<path d="M1453 1368C1458.67 1368 1464.33 1368 1470 1368C1471.13 1368 1472.27 1368 1473.4 1365.5C1474.6 1362.85 1475.8 1351.72 1477 1338.8C1477.93 1328.75 1478.87 1310.67 1479.8 1296.6C1480.73 1282.53 1481.67 1266.72 1482.6 1254.4C1483.3 1245.16 1484 1237.24 1484.7 1231.9C1485.17 1228.34 1485.63 1227.7 1486.1 1227.7C1486.8 1227.7 1487.5 1233.5 1488.2 1240.3C1488.9 1247.1 1489.6 1260.3 1490.3 1268.5C1491 1276.7 1491.7 1284.24 1492.4 1289.5C1493.57 1298.27 1494.73 1303.67 1495.9 1310.6C1497.1 1317.73 1498.3 1324.57 1499.5 1331.7C1500.67 1338.63 1501.83 1347.19 1503 1352.8C1503.93 1357.29 1504.87 1362 1505.8 1362C1506.97 1362 1508.13 1360.18 1509.3 1352.8C1510.47 1345.42 1511.63 1333.31 1512.8 1317.7C1513.73 1305.21 1514.67 1283.73 1515.6 1268.5C1516.53 1253.27 1517.47 1239.96 1518.4 1226.3C1519.13 1215.56 1519.87 1202.74 1520.6 1195.3C1521.3 1188.2 1522 1182.7 1522.7 1182.7C1523.4 1182.7 1524.1 1188.5 1524.8 1198.1C1525.5 1207.7 1526.2 1226.23 1526.9 1240.3C1527.6 1254.37 1528.3 1268.43 1529 1282.5C1529.7 1296.57 1530.4 1313.64 1531.1 1324.7C1532.03 1339.44 1532.97 1354.39 1533.9 1359.9C1534.83 1365.41 1535.77 1364.5 1536.7 1365.5C1537.8 1366.68 1538.9 1368 1540 1368C1557.33 1368 1574.67 1368 1592 1368C1593.2 1368 1594.4 1368 1595.6 1365.5C1596.53 1363.56 1597.47 1354.79 1598.4 1345.8C1599.37 1336.49 1600.33 1323.71 1601.3 1310.6C1602.23 1297.94 1603.17 1282.55 1604.1 1268.5C1605.03 1254.45 1605.97 1238.03 1606.9 1226.3C1607.83 1214.57 1608.77 1204.4 1609.7 1198.1C1610.4 1193.37 1611.1 1193.2 1611.8 1193.2C1612.5 1193.2 1613.2 1194.22 1613.9 1200.9C1614.6 1207.58 1615.3 1220.87 1616 1233.3C1616.7 1245.73 1617.4 1261.43 1618.1 1275.5C1618.8 1289.57 1619.5 1304.82 1620.2 1317.7C1620.9 1330.58 1621.6 1346.01 1622.3 1352.8C1623.27 1362.18 1624.23 1364.34 1625.2 1366.2C1626.13 1368 1627.07 1368 1628 1368C1654.67 1368 1681.33 1368 1708 1368" fill="none" stroke="#d0111a" stroke-width="4.3" stroke-linejoin="round"/>
<path d="M1004 1312C1005.47 1308.27 1006.93 1305.3 1008.4 1300.8C1009.37 1297.83 1010.33 1295.84 1011.3 1289.6C1012 1285.08 1012.7 1276.72 1013.4 1268.5C1014.1 1260.28 1014.8 1248.34 1015.5 1240.3C1016.43 1229.58 1017.37 1219.93 1018.3 1212.2C1019.23 1204.47 1020.17 1195.77 1021.1 1193.9C1021.8 1192.5 1022.5 1192.5 1023.2 1192.5C1023.9 1192.5 1024.6 1198.4 1025.3 1205.2C1026 1212 1026.7 1224.63 1027.4 1233.3C1028.1 1241.97 1028.8 1251.1 1029.5 1257.2C1030.47 1265.63 1031.43 1276.9 1032.4 1276.9C1033.8 1276.9 1035.2 1276.9 1036.6 1276.9C1038.23 1276.9 1039.87 1276.28 1041.5 1274.1C1042.67 1272.54 1043.83 1268.83 1045 1265.7C1045.93 1263.2 1046.87 1257.2 1047.8 1257.2C1048.73 1257.2 1049.67 1264.81 1050.6 1268.5C1051.8 1273.24 1053 1282.5 1054.2 1282.5C1055.13 1282.5 1056.07 1277.99 1057 1271.3C1057.7 1266.29 1058.4 1254.84 1059.1 1247.4C1060.03 1237.48 1060.97 1225.87 1061.9 1219.2C1063.07 1210.87 1064.23 1205.92 1065.4 1202.4C1066.57 1198.88 1067.73 1198.1 1068.9 1198.1C1069.87 1198.1 1070.83 1206.23 1071.8 1212.2C1072.73 1217.96 1073.67 1224.73 1074.6 1233.3C1075.3 1239.73 1076 1249 1076.7 1257.2C1077.4 1265.4 1078.1 1275.86 1078.8 1282.5C1079.73 1291.36 1080.67 1299.57 1081.6 1303.7C1083 1309.9 1084.4 1311.7 1085.8 1313.5C1087.67 1315.9 1089.53 1315.61 1091.4 1316.3C1093.3 1317.01 1095.2 1317.7 1097.1 1317.7C1098.27 1317.7 1099.43 1310.73 1100.6 1303.7C1101.77 1296.67 1102.93 1284.03 1104.1 1275.5C1105.5 1265.26 1106.9 1254.43 1108.3 1247.4C1109.7 1240.37 1111.1 1236.63 1112.5 1233.3C1113.47 1231 1114.43 1230.5 1115.4 1230.5C1116.33 1230.5 1117.27 1242.89 1118.2 1247.4C1119.6 1254.16 1121 1260.08 1122.4 1264.3C1123.33 1267.11 1124.27 1268.5 1125.2 1268.5C1126.53 1268.5 1127.87 1262.9 1129.2 1262.9C1130.6 1262.9 1132 1270.27 1133.4 1275.5C1134.13 1278.24 1134.87 1284.91 1135.6 1286.8C1137.23 1291.01 1138.87 1291.7 1140.5 1293.8C1142.13 1295.9 1143.77 1294.33 1145.4 1299.4C1146.33 1302.3 1147.27 1312.9 1148.2 1317.7C1149.37 1323.7 1150.53 1327.63 1151.7 1331.8C1152.63 1335.13 1153.57 1340.2 1154.5 1340.2C1155.93 1340.2 1157.37 1335.12 1158.8 1331.8C1160.2 1328.56 1161.6 1327.54 1163 1320.5C1163.93 1315.81 1164.87 1304.1 1165.8 1296.6C1166.73 1289.1 1167.67 1281.83 1168.6 1275.5C1169.53 1269.17 1170.47 1262.15 1171.4 1258.6C1173.3 1251.38 1175.2 1248.32 1177.1 1243.2C1178.5 1239.42 1179.9 1234.97 1181.3 1231.9C1182.47 1229.34 1183.63 1226.3 1184.8 1226.3C1185.73 1226.3 1186.67 1230.81 1187.6 1237.5C1188.3 1242.51 1189 1250.98 1189.7 1261.4C1190.17 1268.35 1190.63 1284.12 1191.1 1289.6C1192.03 1300.56 1192.97 1306.83 1193.9 1310.7C1195.8 1318.57 1197.7 1324.8 1199.6 1324.8C1201 1324.8 1202.4 1310.27 1203.8 1303.7C1205.2 1297.13 1206.6 1291.04 1208 1285.4C1208.93 1281.64 1209.87 1277.38 1210.8 1275.5C1212.2 1272.68 1213.6 1272.22 1215 1271.3C1216.9 1270.05 1218.8 1271.01 1220.7 1268.5C1222.1 1266.65 1223.5 1257.2 1224.9 1257.2C1226.3 1257.2 1227.7 1264.28 1229.1 1268.5C1230.5 1272.72 1231.9 1277.58 1233.3 1282.5C1234.7 1287.42 1236.1 1298 1237.5 1298C1239.87 1298 1242.23 1296.6 1244.6 1296.6C1246.07 1296.6 1247.53 1299.57 1249 1300.5C1250.33 1301.34 1251.67 1301.9 1253 1301.9C1254.37 1301.9 1255.73 1295 1257.1 1289.8C1257.97 1286.5 1258.83 1282.3 1259.7 1276.4C1260.6 1270.27 1261.5 1260.83 1262.4 1253.7C1263.3 1246.57 1264.2 1240.53 1265.1 1233.6C1266 1226.67 1266.9 1216.89 1267.8 1212.1C1268.67 1207.49 1269.53 1205.4 1270.4 1205.4C1271.3 1205.4 1272.2 1212.35 1273.1 1217.5C1274.23 1223.98 1275.37 1231.93 1276.5 1240.3C1277.6 1248.43 1278.7 1259.32 1279.8 1267C1280.93 1274.92 1282.07 1280.3 1283.2 1287.1C1284.3 1293.7 1285.4 1302.75 1286.5 1307.2C1287.83 1312.59 1289.17 1314.32 1290.5 1316.6C1292.3 1319.68 1294.1 1322.25 1295.9 1323.3C1297.67 1324.33 1299.43 1323.81 1301.2 1324.6C1302.57 1325.21 1303.93 1325.42 1305.3 1328.7C1306.17 1330.78 1307.03 1336.55 1307.9 1340.7C1308.8 1345.01 1309.7 1349.73 1310.6 1354.1C1311.27 1357.33 1311.93 1361.38 1312.6 1363.5C1313.27 1365.62 1313.93 1366.59 1314.6 1366.8C1318.2 1367.94 1321.8 1367.64 1325.4 1368" fill="none" stroke="#000" stroke-width="4.3" stroke-linejoin="round" stroke-dasharray="16 7 3 7"/>
<path d="M1453 1368C1458.67 1368 1464.33 1368 1470 1368C1471.13 1368 1472.27 1368 1473.4 1365.5C1474.1 1363.96 1474.8 1348.45 1475.5 1338.8C1476.47 1325.48 1477.43 1312.92 1478.4 1296.6C1479.1 1284.78 1479.8 1275.42 1480.5 1254.4C1480.97 1240.39 1481.43 1212.85 1481.9 1191.5C1482.27 1174.72 1482.63 1156.6 1483 1140C1483.23 1129.44 1483.47 1113 1483.7 1110C1484.6 1098.43 1485.5 1096.3 1486.4 1096.3C1487.3 1096.3 1488.2 1098.76 1489.1 1110C1489.37 1113.33 1489.63 1131.64 1489.9 1140C1490.5 1158.81 1491.1 1180.32 1491.7 1191.5C1492.8 1211.99 1493.9 1222.8 1495 1235C1496 1246.1 1497 1249.95 1498 1261.4C1499.2 1275.15 1500.4 1296.34 1501.6 1310.6C1502.77 1324.47 1503.93 1336.13 1505.1 1345.8C1506 1353.26 1506.9 1362 1507.8 1362C1508.77 1362 1509.73 1356.89 1510.7 1345.8C1511.63 1335.09 1512.57 1316.7 1513.5 1296.6C1514.2 1281.53 1514.9 1264.03 1515.6 1240.3C1515.93 1229 1516.27 1207.09 1516.6 1191.5C1517.27 1160.32 1517.93 1137.56 1518.6 1100C1518.8 1088.73 1519 1048.2 1519.2 1045C1520.1 1030.6 1521 1030.6 1521.9 1030.6C1522.8 1030.6 1523.7 1030.6 1524.6 1045C1524.83 1048.73 1525.07 1086.85 1525.3 1100C1525.93 1135.69 1526.57 1171.31 1527.2 1191.5C1528.03 1218.07 1528.87 1221.26 1529.7 1240.3C1530.4 1256.29 1531.1 1279.02 1531.8 1296.6C1532.5 1314.18 1533.2 1334.32 1533.9 1345.8C1534.6 1357.28 1535.3 1363.75 1536 1365.5C1537 1368 1538 1368 1539 1368C1557 1368 1575 1368 1593 1368C1594.17 1368 1595.33 1366.38 1596.5 1365C1597.13 1364.25 1597.77 1364.94 1598.4 1359.9C1599.1 1354.32 1599.8 1337.3 1600.5 1324.7C1601.23 1311.5 1601.97 1298.25 1602.7 1282.5C1603.17 1272.48 1603.63 1260.28 1604.1 1247.4C1604.57 1234.52 1605.03 1217.26 1605.5 1205.2C1606.03 1191.42 1606.57 1193.05 1607.1 1169.9C1607.47 1153.98 1607.83 1114.23 1608.2 1088C1608.47 1068.93 1608.73 1044.4 1609 1034C1609.4 1018.4 1609.8 1014.67 1610.2 1010C1610.8 1003 1611.4 999 1612 999C1612.6 999 1613.2 1003 1613.8 1010C1614.2 1014.67 1614.6 1018.4 1615 1034C1615.27 1044.4 1615.53 1065.35 1615.8 1088C1616.07 1110.65 1616.33 1149.2 1616.6 1169.9C1616.87 1190.6 1617.13 1200.25 1617.4 1212.2C1617.87 1233.12 1618.33 1252.1 1618.8 1268.5C1619.27 1284.9 1619.73 1299.36 1620.2 1310.6C1620.9 1327.46 1621.6 1343.86 1622.3 1352.8C1623.03 1362.16 1623.77 1363.93 1624.5 1365.5C1625.67 1368 1626.83 1368 1628 1368C1654.67 1368 1681.33 1368 1708 1368" fill="none" stroke="#000" stroke-width="4.3" stroke-linejoin="round" stroke-dasharray="16 7 3 7"/>
<path d="M1385.3 828.8V1368.9" stroke="#000" stroke-width="3" stroke-dasharray="16.2 17.25"/>
<rect x="1003.1" y="725.8" width="705.4" height="643.1" fill="none" stroke="#000" stroke-width="3.0"/>
<path d="M1003.1 1277.02H1011.1M1708.5 1277.02H1700.5" stroke="#000" stroke-width="3.0"/>
<path d="M1003.1 1185.14H1011.1M1708.5 1185.14H1700.5" stroke="#000" stroke-width="3.0"/>
<path d="M1003.1 1093.26H1011.1M1708.5 1093.26H1700.5" stroke="#000" stroke-width="3.0"/>
<path d="M1003.1 1001.38H1011.1M1708.5 1001.38H1700.5" stroke="#000" stroke-width="3.0"/>
<path d="M1003.1 909.5H1011.1M1708.5 909.5H1700.5" stroke="#000" stroke-width="3.0"/>
<path d="M1003.1 817.62H1011.1M1708.5 817.62H1700.5" stroke="#000" stroke-width="3.0"/>
<text x="977.56" y="1379.8" font-size="33">0</text>
<text x="978.12" y="1287.92" font-size="33">2</text>
<text x="976.82" y="1196.04" font-size="33">4</text>
<text x="977.28" y="1104.16" font-size="33">6</text>
<text x="977.56" y="1012.28" font-size="33">8</text>
<text x="961.06" y="920.4" font-size="33">10</text>
<text x="961.62" y="828.52" font-size="33">12</text>
<text x="960.32" y="736.64" font-size="33">14</text>
<path d="M1134.7 1368.9V1355.9" stroke="#000" stroke-width="1.7"/>
<path d="M1249.5 1368.9V1355.9" stroke="#000" stroke-width="1.7"/>
<path d="M1512.9 1368.9V1355.9" stroke="#000" stroke-width="1.7"/>
<path d="M1631.3 1368.9V1355.9" stroke="#000" stroke-width="1.7"/>
<text transform="translate(1128.2 1402.2) scale(0.9257 1)" font-size="33">4</text>
<text transform="translate(1113.08 1402.2) scale(0.8082 1)" font-size="33">–</text>
<text transform="translate(1244.58 1402.2) scale(1.0507 1)" font-size="33">2</text>
<text transform="translate(1230.18 1402.2) scale(0.8023 1)" font-size="33">–</text>
<text transform="translate(1372.4 1399.7) scale(1.0367 1)" font-size="33">0</text>
<text transform="translate(1507.37 1403.3) scale(1.0583 1)" font-size="33">2</text>
<text transform="translate(1625.89 1402.2) scale(0.9453 1)" font-size="33">4</text>
<text transform="translate(1295.15 1451.1) scale(0.9903 1)" font-size="33.3">E (eV)</text>
<text transform="translate(880.77 765) scale(1.0190 1)" font-size="63" font-weight="bold">D</text>
<text transform="translate(1316.01 781.8) scale(1.0044 1)" font-size="37.6">H-SiB</text>
<text transform="translate(1596.22 805.5) scale(0.9719 1)" font-size="31.6">B</text>
<path d="M1430.7 840.2H1557.7" stroke="#434da0" stroke-width="4.5"/>
<path d="M1430.7 873.8H1557.7" stroke="#d0111a" stroke-width="4.5"/>
<path d="M1430.7 907.8H1554.1" stroke="#000" stroke-width="4.5" stroke-dasharray="16.8 6.5 3.3 7.4"/>
<text transform="translate(1569.96 842.8)" font-size="27.5">p</text>
<text transform="translate(1584.86 853) scale(0.8915 1)" font-size="18.5">x</text>
<text transform="translate(1599.19 845.4) scale(1.0073 1)" font-size="32">+</text>
<text transform="translate(1628.36 842.8)" font-size="27.5">p</text>
<text transform="translate(1642.97 853)" font-size="18.5">y</text>
<text transform="translate(1651.94 842.8) scale(1.1262 1)" font-size="27.5">(σ)</text>
<text transform="translate(1569.96 878.3)" font-size="27.5">p</text>
<text transform="translate(1584.7 888.5)" font-size="18.5">z</text>
<text transform="translate(1595.95 878.3) scale(1.1147 1)" font-size="27.5">(π)</text>
<text transform="translate(1572.47 915.6) scale(1.0363 1)" font-size="28.4">TDOS</text>
<text transform="translate(1335.43 994.6) scale(1.0851 1)" font-size="37.4">E</text>
<text transform="translate(1359.03 1006.2) scale(1.0405 1)" font-size="22.5">F</text>
</svg>
</body></html>
